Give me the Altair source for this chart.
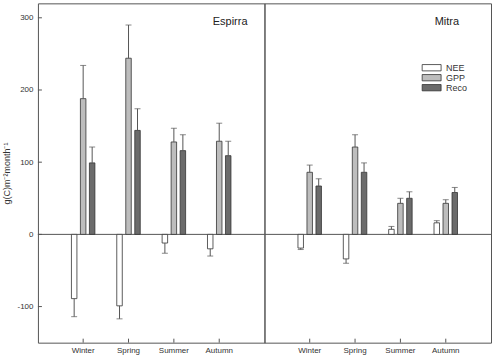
import altair as alt
import pandas as pd

sites = ["Espirra", "Mitra"]
seasons = ["Winter", "Spring", "Summer", "Autumn"]
variables = ["NEE", "GPP", "Reco"]

espirra_nee = [-89, -99, -12, -20]
espirra_nee_err = [25, 18, 14, 10]
espirra_gpp = [188, 244, 128, 129]
espirra_gpp_err = [46, 46, 19, 25]
espirra_reco = [99, 144, 116, 109]
espirra_reco_err = [22, 30, 22, 20]

mitra_nee = [-19, -34, 7, 16]
mitra_nee_err = [2, 6, 4, 3]
mitra_gpp = [86, 121, 43, 43]
mitra_gpp_err = [10, 17, 7, 5]
mitra_reco = [67, 86, 50, 58]
mitra_reco_err = [10, 13, 9, 7]

y_ticks = [-100, 0, 100, 200, 300]

series = {
    ("Espirra", "NEE"): (espirra_nee, espirra_nee_err),
    ("Espirra", "GPP"): (espirra_gpp, espirra_gpp_err),
    ("Espirra", "Reco"): (espirra_reco, espirra_reco_err),
    ("Mitra", "NEE"): (mitra_nee, mitra_nee_err),
    ("Mitra", "GPP"): (mitra_gpp, mitra_gpp_err),
    ("Mitra", "Reco"): (mitra_reco, mitra_reco_err),
}
rows = []
for (site, var), (vals, errs) in series.items():
    for s, v, e in zip(seasons, vals, errs):
        rows.append({"site": site, "season": s, "variable": var, "value": v,
                     "end": v + (e if v >= 0 else -e)})
df = pd.DataFrame(rows)

FONT = "Liberation Sans"
W, H = 227, 340

x_scale = alt.Scale(domain=seasons, paddingInner=0.405, paddingOuter=0.70)
xo_scale = alt.Scale(domain=variables, paddingInner=0.39, paddingOuter=0.195)
y_scale = alt.Scale(domain=[-150, 320], nice=False, zero=False)


def panel(site, show_axis):
    base = alt.Chart(df[df.site == site])
    x = alt.X("season:N", sort=seasons, scale=x_scale,
              axis=alt.Axis(title=None, ticks=False, domain=False, labelFontSize=8,
                            labelColor="#333", labelPadding=4, labelAngle=0, labelFont=FONT))
    xo = alt.XOffset("variable:N", sort=variables, scale=xo_scale)
    if show_axis:
        yaxis = alt.Axis(title="g(C)m\u207b\u00b2month\u207b\u00b9", values=y_ticks, grid=False,
                         ticks=False, domain=False, labelFontSize=8, labelColor="#333",
                         labelExpr="toString(datum.value)",
                         labelPadding=5, labelFont=FONT, titleFont=FONT, titleFontSize=9,
                         titleFontWeight="normal", titleColor="#333", titlePadding=5)
    else:
        yaxis = None
    y = alt.Y("value:Q", scale=y_scale, axis=yaxis)

    zero = alt.Chart(pd.DataFrame({"value": [0]})).mark_rule(color="#555", strokeWidth=1).encode(
        y=alt.Y("value:Q", scale=y_scale, axis=yaxis))
    bars = base.mark_bar(stroke="#333", strokeWidth=0.8).encode(
        x=x, xOffset=xo, y=y, y2=alt.datum(0),
        fill=alt.Fill("variable:N", sort=variables,
                      scale=alt.Scale(domain=variables, range=["#ffffff", "#bdbdbd", "#6b6b6b"]),
                      legend=alt.Legend(title=None, orient="none", legendX=390, legendY=60,
                                        symbolType="M-3,-1H3V1H-3Z", symbolSize=40,
                                        symbolStrokeColor="#333", symbolStrokeWidth=0.8,
                                        labelFontSize=9, labelColor="#333", labelFont=FONT,
                                        rowPadding=-1, labelOffset=10)))
    err = base.mark_rule(color="#555", strokeWidth=1).encode(x=x, xOffset=xo, y="value:Q", y2="end:Q")
    caps = base.mark_tick(color="#555", thickness=1, size=6).encode(x=x, xOffset=xo, y="end:Q")
    layers = [zero, bars, err, caps]
    if show_axis:
        yt = alt.Chart(pd.DataFrame({"value": y_ticks})).mark_rule(color="#555").encode(
            y="value:Q", x=alt.value(0), x2=alt.value(4))
        layers.append(yt)
    xt = alt.Chart(pd.DataFrame({"season": seasons})).mark_rule(color="#555").encode(
        x=x, y=alt.value(H - 4), y2=alt.value(H))
    title = alt.Chart(pd.DataFrame({"site": [site]})).mark_text(
        align="right", baseline="middle", fontSize=11, color="#222", font=FONT).encode(
        x=alt.value(210 if show_axis else 195), y=alt.value(19), text="site:N")
    layers += [xt, title]
    return alt.layer(*layers).properties(width=W, height=H)


chart = alt.hconcat(panel("Espirra", True), panel("Mitra", False), spacing=0, bounds="flush").properties(
    padding={"left": 2, "top": 2, "right": 3, "bottom": 0},
    background="white",
).configure_view(stroke="#555", strokeWidth=1)

chart.save("out.html", embed_options={"renderer": "svg", "actions": False})
